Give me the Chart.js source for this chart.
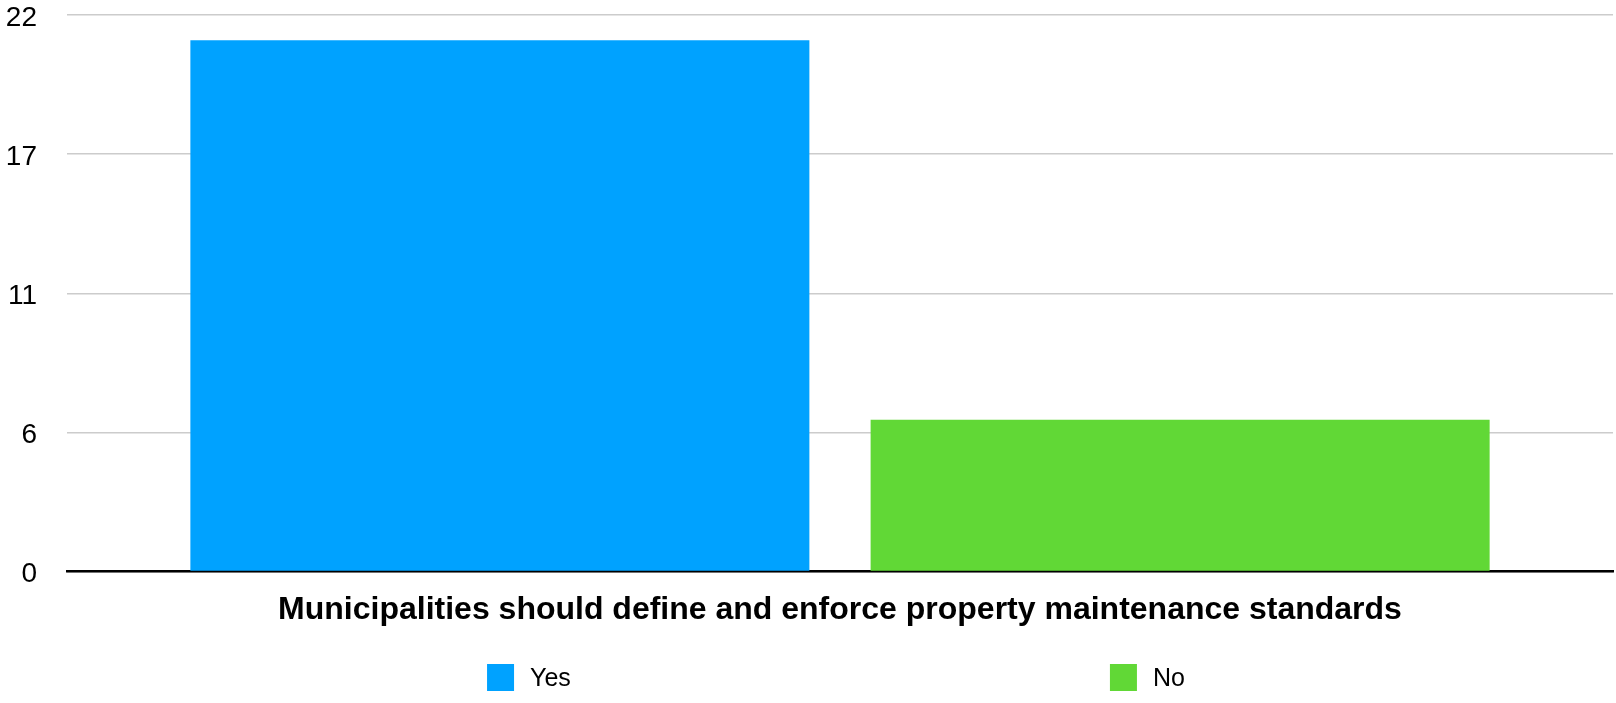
<!DOCTYPE html>
<html>
<head>
<meta charset="utf-8">
<script src="https://cdn.jsdelivr.net/npm/chart.js@4.4.1/dist/chart.umd.min.js"></script>
<style>
   body{margin:0;background:#fff;}
   #wrap{width:1616px;height:703px;}
</style>
</head>
<body>
<div id="wrap"><canvas id="chart" width="1616" height="703"></canvas></div>
<script>

/* data */
let categories = ["Municipalities should define and enforce property maintenance standards"];
let seriesNames = ["Yes","No"];
let yesValues = [21];
let noValues = [6];
let tickValues = [0,5.5,11,16.5,22];
let tickLabels = ["0","6","11","17","22"];

let colors = ["#00A2FF","#61D836"];

let fontFamily = "'Liberation Sans', Arial, Helvetica, sans-serif";

/* legend drawn under the axis title, items spread like the original */
let spreadLegend = {

   id:"spreadLegend",

   afterDraw:function(chart){

      let ctx = chart.ctx;
      let area = chart.chartArea;
      let w = area.right - area.left;
      let spots = [0.2717,0.6746];

      ctx.save();
      ctx.font = "25px " + fontFamily;
      ctx.textBaseline = "middle";
      ctx.textAlign = "left";

      chart.data.datasets.forEach(function(ds,i){

         let x = area.left + w*spots[i];
         let y = 677.5;

         ctx.fillStyle = ds.backgroundColor;
         ctx.fillRect(x,y-13.5,27,27);

         ctx.fillStyle = "#000";
         ctx.fillText(ds.label,x+43,y+1.5);

      });

      ctx.restore();

   }

};

let ctx = document.getElementById("chart").getContext("2d");

new Chart(ctx, {

   type:"bar",

   data:{

      labels:[""],

      datasets:[
         {
            label:seriesNames[0],
            data:yesValues,
            backgroundColor:colors[0]
         },
         {
            label:seriesNames[1],
            data:noValues,
            backgroundColor:colors[1]
         }
      ]

   },

   options:{

      responsive:false,
      animation:false,

      categoryPercentage:0.88,
      barPercentage:0.91,

      layout:{
         padding:{left:0,right:3,top:0,bottom:74}
      },

      plugins:{
         legend:{display:false},
         tooltip:{enabled:false}
      },

      scales:{

         x:{
            grid:{display:false,drawTicks:false},
            border:{display:true,color:"#000",width:2.5},
            ticks:{display:false},
            title:{
               display:true,
               text:categories[0],
               color:"#000",
               font:{family:fontFamily,size:32,weight:"bold"},
               padding:{top:19,bottom:0}
            }
         },

         y:{
            min:0,
            max:22,
            afterBuildTicks:function(axis){
               axis.ticks = tickValues.map(v=>({value:v}));
            },
            afterFit:function(axis){
               axis.width = 67;
               axis.paddingTop = 15;
               axis.paddingBottom = 0;
            },
            grid:{color:"#cccccc",lineWidth:1.5,drawTicks:false},
            border:{display:false},
            ticks:{
               padding:30,
               labelOffset:3,
               color:"#000",
               font:{family:fontFamily,size:28},
               callback:function(v,i){
                  return tickLabels[i];
               }
            }
         }

      }

   },

   plugins:[spreadLegend]

});

</script>
</body>
</html>
